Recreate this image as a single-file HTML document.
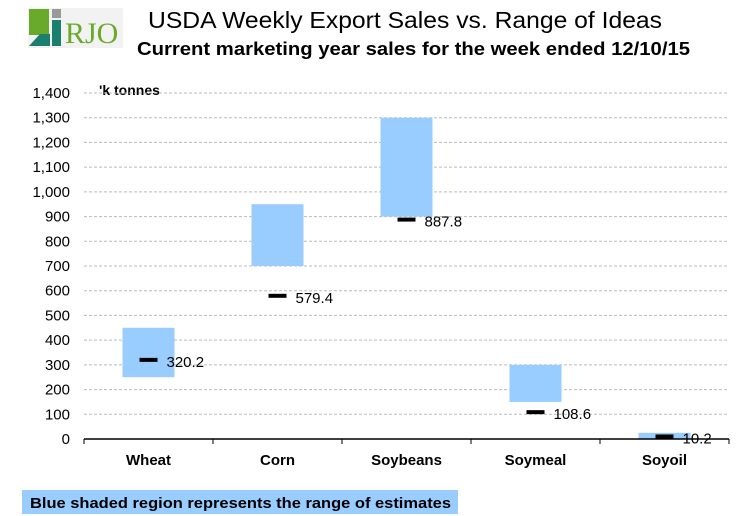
<!DOCTYPE html>
<html><head><meta charset="utf-8"><style>
body{margin:0;background:#fff;font-family:"Liberation Sans",Arial,sans-serif}
#wrap{position:relative;width:756px;height:516px;overflow:hidden}
</style></head><body>
<div id="wrap">
<svg id="svg" width="756" height="516" xmlns="http://www.w3.org/2000/svg">
 <g>
  <rect x="28" y="8" width="95" height="40" fill="#f2f2f2"/>
  <rect x="29" y="9" width="20" height="26" fill="#6aaa2a"/>
  <rect x="52" y="9" width="9" height="9" fill="#999"/>
  <rect x="52" y="20" width="9" height="26" fill="#1a7f6e"/>
  <polygon points="29,46 40,34 50,34 50,46" fill="#1a7f6e"/>
  <text x="65" y="43" font-family="Liberation Serif,serif" font-size="30" fill="#6aaa2a">RJO</text>
 </g>
 <text x="148" y="28" textLength="514" lengthAdjust="spacingAndGlyphs" font-size="23" fill="#000">USDA Weekly Export Sales vs. Range of Ideas</text>
 <text x="137" y="55" textLength="553" lengthAdjust="spacingAndGlyphs" font-size="18" font-weight="bold" fill="#000">Current marketing year sales for the week ended 12/10/15</text>
 <text x="99" y="95" font-size="14" font-weight="bold" fill="#000">'k tonnes</text>
 <g id="grid"></g><g id="bars"></g><g id="axes"></g>
 <rect x="22" y="490" width="436" height="24" fill="#99ccff"/>
 <text x="30" y="508" textLength="421" lengthAdjust="spacingAndGlyphs" font-size="15" font-weight="bold" fill="#000">Blue shaded region represents the range of estimates</text>
</svg>
</div>
<script>
const categories=["Wheat","Corn","Soybeans","Soymeal","Soyoil"];
const rangeLow=[250,700,900,150,0];
const rangeHigh=[450,950,1300,300,25];
const actual=[320.2,579.4,887.8,108.6,10.2];
const actualLabels=["320.2","579.4","887.8","108.6","10.2"];
const yTicks=[0,100,200,300,400,500,600,700,800,900,1000,1100,1200,1300,1400];
const NS="http://www.w3.org/2000/svg";
const X0=84,X1=729,Y0=439,Y1=93,YMAX=1400;
const y=v=>Y0-(v/YMAX)*(Y0-Y1);
const cw=(X1-X0)/categories.length;
const xc=i=>X0+cw*(i+0.5);
function mk(t,a,p){const e=document.createElementNS(NS,t);for(const k in a)e.setAttribute(k,a[k]);(p||document.getElementById('svg')).appendChild(e);return e;}
const grid=document.getElementById('grid'),bars=document.getElementById('bars'),axes=document.getElementById('axes');
yTicks.forEach(v=>{
 if(v>0){const l=mk('line',{x1:X0,x2:X1,y1:y(v),y2:y(v),stroke:'#bbb','stroke-dasharray':'3,2'},grid);
 
 }
 const t=mk('text',{x:X0-14,y:y(v)+5,'text-anchor':'end','font-size':15,fill:'#000'},axes);
 t.textContent=v.toLocaleString('en-US');
 
 
});
const ax=mk('line',{x1:X0,x2:X1,y1:Y0,y2:Y0,stroke:'#000','stroke-width':1.5},axes);


for(let i=0;i<=categories.length;i++){const tk=mk('line',{x1:X0+cw*i,x2:X0+cw*i,y1:Y0,y2:Y0+5,stroke:'#000'},axes);
 
 }
categories.forEach((c,i)=>{
 const r=mk('rect',{x:xc(i)-26,width:52,y:y(rangeHigh[i]),height:y(rangeLow[i])-y(rangeHigh[i]),fill:'#99ccff'},bars);
 
 
 const m=mk('rect',{x:xc(i)-9,width:18,y:y(actual[i])-2,height:4,fill:'#000'},bars);
 
 
 const lt=mk('text',{x:xc(i)+18,y:y(actual[i])+7,'font-size':15,fill:'#000'},bars);
 lt.textContent=actualLabels[i];
 
 
 const ct=mk('text',{x:xc(i),y:465,'text-anchor':'middle','font-size':15,'font-weight':'bold',fill:'#000'},axes);
 ct.textContent=c;
 
 
});
</script>
</body></html>
